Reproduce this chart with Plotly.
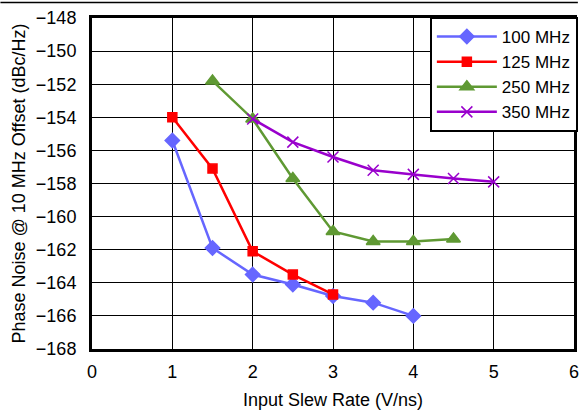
import plotly.graph_objects as go

x100 = [1, 1.5, 2, 2.5, 3, 3.5, 4]
y100 = [-155.4, -161.9, -163.5, -164.1, -164.8, -165.2, -166.0]
x125 = [1, 1.5, 2, 2.5, 3]
y125 = [-154.0, -157.1, -162.1, -163.5, -164.7]
x250 = [1.5, 2, 2.5, 3, 3.5, 4, 4.5]
y250 = [-151.8, -154.1, -157.7, -160.9, -161.5, -161.5, -161.35]
x350 = [2, 2.5, 3, 3.5, 4, 4.5, 5]
y350 = [-154.1, -155.5, -156.4, -157.2, -157.45, -157.7, -157.9]

names = ["100 MHz", "125 MHz", "250 MHz", "350 MHz"]
colors = ["#6666FF", "#FF0000", "#5F9933", "#9900CC"]
symbols = ["diamond", "square", "triangle-up", "x-thin-open"]
sizes = [11, 9, 12, 11]

font = "Liberation Sans, Arial, sans-serif"
fig = go.Figure()
for xs, ys, n, c, s, sz in zip([x100, x125, x250, x350], [y100, y125, y250, y350],
                               names, colors, symbols, sizes):
    fig.add_trace(go.Scatter(
        x=xs, y=ys, name=n, mode="lines+markers",
        line=dict(color=c, width=2.5),
        marker=dict(symbol=s, size=sz, color=c, line=dict(color=c, width=1.5)),
    ))

fig.update_layout(
    width=585, height=412,
    margin=dict(l=92, r=7, t=18, b=63),
    paper_bgcolor="white", plot_bgcolor="white",
    font=dict(family=font, size=18, color="black"),
    showlegend=True,
    legend=dict(x=1.008, y=1.003, xanchor="right", yanchor="top",
                bgcolor="white", bordercolor="black", borderwidth=2,
                font=dict(size=17), tracegroupgap=0, itemwidth=60),
    xaxis=dict(range=[0, 6], dtick=1, showgrid=True, gridcolor="black", gridwidth=1,
               showline=True, linecolor="black", linewidth=3, mirror=True,
               zeroline=False, ticks="", tickfont=dict(size=18),
               automargin=False, ticklabeloverflow="allow", ticklabelstandoff=4,
               title=dict(text="Input Slew Rate (V/ns)", font=dict(size=18), standoff=13)),
    yaxis=dict(range=[-168, -148], dtick=2, showgrid=True, gridcolor="black", gridwidth=1,
               showline=True, linecolor="black", linewidth=3, mirror=True,
               zeroline=False, ticks="", tickfont=dict(size=18),
               automargin=False, ticklabelstandoff=9,
               title=dict(text="Phase Noise @ 10 MHz Offset (dBc/Hz)", font=dict(size=18), standoff=6)),
)
fig.add_shape(type="line", xref="paper", yref="paper", x0=-0.19, x1=1.008, y0=1.047, y1=1.047,
              line=dict(color="black", width=1.5), layer="above")
fig.write_html("out.html", post_script="document.body.style.margin='0';",
               config={"displayModeBar": False})
